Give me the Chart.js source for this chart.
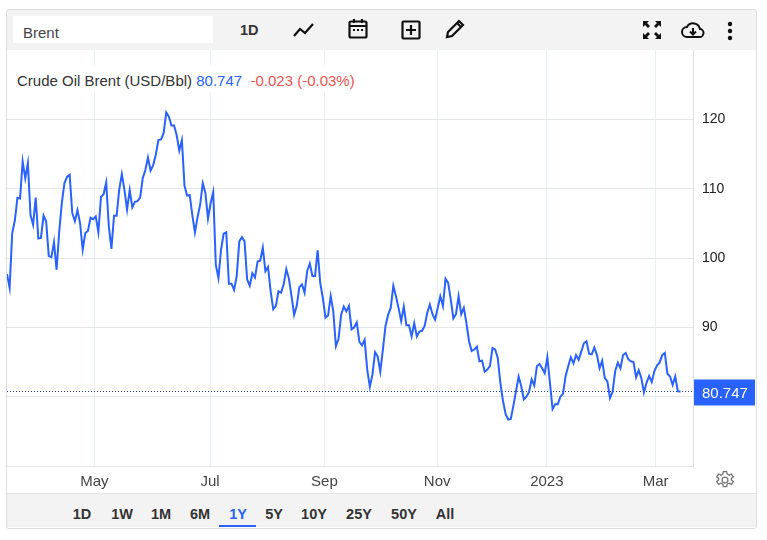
<!DOCTYPE html>
<html>
<head>
<meta charset="utf-8">
<title>Crude Oil Brent</title>
<script src="https://cdn.jsdelivr.net/npm/chart.js@4"></script>
<style>
    html, body { margin: 0; padding: 0; background: #fff; overflow: hidden; }
    body { width: 767px; height: 540px; position: relative; font-family: "Liberation Sans", Arial, sans-serif; color: #333; }
    canvas { position: absolute; left: 0; top: 0; }
    .frame { position: absolute; left: 6px; top: 9px; width: 749px; height: 518px; border: 1px solid #dcdcdc; border-radius: 3px; pointer-events: none; }
    .topbar { position: absolute; left: 7px; top: 10px; width: 749px; height: 40px; background: #f3f3f3; }
    .search { position: absolute; left: 13px; top: 16px; width: 190px; height: 27px; padding-left: 10px; background: #fff; font-size: 15px; line-height: 34px; color: #444; }
    .interval { position: absolute; left: 240px; top: 21px; font-size: 14.5px; line-height: 18px; font-weight: 700; color: #333; }
    .icon { position: absolute; }
    .legend { position: absolute; left: 8px; top: 65px; width: 350px; height: 27px; padding-left: 9px; background: #fff; font-size: 15px; line-height: 31px; white-space: pre; color: #333; }
    .legend .last { color: #2962ff; }
    .legend .change { color: #ef5350; }
    .bottombar { position: absolute; left: 7px; top: 493px; width: 749px; height: 34px; background: #f3f3f3; border-top: 1px solid #e4e4e4; box-sizing: border-box; }
    .range { position: absolute; top: 504px; font-size: 14.5px; line-height: 20px; font-weight: 700; color: #333; transform: translateX(-50%); }
    .range.active { color: #2962ff; }
    .underline { position: absolute; left: 219px; top: 525px; width: 37px; height: 2px; background: #2962ff; }
</style>
</head>
<body>
<canvas id="brentChart" width="767" height="540"></canvas>
<div class="topbar"></div>
<div class="bottombar"></div>
<div class="search">Brent</div>
<div class="interval">1D</div>
<svg class="icon" style="left:292px;top:18px" width="24" height="24" viewBox="0 0 24 24" fill="none" stroke="#111" stroke-width="2.2"><path d="M2 18l6-7 5 4 8-9"/></svg>
<svg class="icon" style="left:346px;top:17px" width="24" height="24" viewBox="0 0 24 24" fill="none" stroke="#111" stroke-width="2.2"><rect x="3.5" y="4.5" width="17" height="16" rx="1.5"/><path d="M3.5 9h17M8 2v4M16 2v4" /><path d="M7 13h2M11 13h2M15 13h2" /></svg>
<svg class="icon" style="left:399px;top:18px" width="24" height="24" viewBox="0 0 24 24" fill="none" stroke="#111" stroke-width="2.2"><rect x="3.5" y="3.5" width="17" height="17" rx="1"/><path d="M12 7v10M7 12h10"/></svg>
<svg class="icon" style="left:443px;top:17px" width="24" height="24" viewBox="0 0 24 24" fill="none" stroke="#111" stroke-width="2.2"><path d="M4 20l1-5L16 4l4 4L9 19z"/><path d="M14 6l4 4"/></svg>
<svg class="icon" style="left:640px;top:18px" width="24" height="24" viewBox="0 0 24 24" fill="#111"><path d="M3 3h6l-2 2 3 3-2 2-3-3-2 2zM21 3v6l-2-2-3 3-2-2 3-3-2-2zM3 21v-6l2 2 3-3 2 2-3 3 2 2zM21 21h-6l2-2-3-3 2-2 3 3 2-2z"/></svg>
<svg class="icon" style="left:681px;top:18px" width="24" height="24" viewBox="0 0 24 24" fill="none" stroke="#111" stroke-width="2"><path d="M6 19h12a4 4 0 0 0 1-8 7 7 0 0 0-13-2 5 5 0 0 0 0 10z"/><path d="M12 10v6M9 13.5l3 3 3-3"/></svg>
<svg class="icon" style="left:718px;top:19px" width="24" height="24" viewBox="0 0 24 24" fill="#111"><circle cx="12" cy="5" r="2.2"/><circle cx="12" cy="12" r="2.2"/><circle cx="12" cy="19" r="2.2"/></svg>
<svg class="icon" style="left:715px;top:470px" width="20" height="20" viewBox="0 0 24 24" fill="none" stroke="#777" stroke-width="1.6"><circle cx="12" cy="12" r="3.5"/><path d="M10 2h4l.6 3 2.4 1.2 2.7-1.4 2.2 3.4-2.3 2v1.6l2.3 2-2.2 3.4-2.7-1.4-2.4 1.2-.6 3h-4l-.6-3-2.4-1.2-2.7 1.4-2.2-3.4 2.3-2v-1.6l-2.3-2 2.2-3.4 2.7 1.4 2.4-1.2z"/></svg>
<div class="legend">Crude Oil Brent (USD/Bbl) <span class="last" id="legendLast"></span>  <span class="change" id="legendChange"></span></div>
<div id="rangeButtons"></div>
<div class="underline"></div>
<div class="frame"></div>
<script>
// values, one per trading day
const brentValues = [
    97.7, 95.7, 103.6, 105.4, 108.7, 108.6, 113.9, 111.5, 113.7, 106.2,
    104.8, 108.7, 102.8, 102.9, 106.1, 105.3, 100.3, 100.1, 102.3, 98.3,
    103.8, 107.9, 110.8, 111.7, 112.0, 106.5, 105.3, 106.9, 105.0, 101.2,
    103.6, 103.9, 105.8, 105.6, 106.0, 103.7, 108.8, 109.2, 110.9, 104.6,
    101.3, 106.1, 106.1, 109.9, 112.1, 109.8, 107.0, 109.8, 107.3, 108.1,
    108.2, 108.7, 111.5, 112.7, 114.5, 112.6, 113.4, 114.9, 117.0, 117.1,
    118.0, 121.0, 120.4, 119.1, 119.1, 117.7, 115.5, 117.0, 110.4, 109.0,
    109.1, 106.2, 103.7, 105.9, 107.7, 110.8, 109.4, 105.7, 107.9, 109.5,
    99.0, 97.1, 101.2, 103.5, 103.7, 96.3, 96.3, 95.4, 97.4, 102.4,
    103.0, 102.4, 96.9, 96.0, 97.8, 97.2, 99.5, 99.6, 101.5, 98.1,
    98.7, 95.2, 92.6, 93.1, 95.2, 95.0, 96.2, 98.4, 97.0, 94.5,
    91.8, 93.1, 95.8, 96.2, 95.0, 98.1, 99.2, 97.4, 97.4, 101.1,
    96.4, 94.2, 91.4, 91.7, 94.5, 92.3, 87.3, 88.3, 91.8, 93.0,
    92.3, 93.1, 89.7, 90.0, 90.7, 87.9, 87.4, 88.2, 83.9, 81.4,
    83.2, 86.4, 85.8, 83.6, 86.8, 90.2, 91.8, 92.8, 96.0, 94.5,
    92.8, 90.9, 93.0, 90.3, 90.3, 88.7, 90.6, 88.7, 89.4, 89.5,
    90.2, 92.1, 93.3, 91.9, 91.1, 92.8, 94.5, 93.1, 97.0, 96.4,
    94.0, 91.3, 91.9, 94.5, 91.9, 92.8, 90.6, 88.0,
    86.6, 86.8, 87.2, 85.1, 85.2, 83.6, 83.9, 84.4, 87.0, 86.8,
    85.6, 82.0, 79.4, 77.5, 76.7, 76.8, 78.7, 80.8, 82.9, 81.5,
    79.6, 80.0, 80.7, 82.5, 81.6, 84.4, 84.7, 84.1, 83.4, 85.7,
    82.0, 78.2, 78.9, 78.9, 80.0, 80.4, 83.0, 84.4, 85.7, 84.8,
    86.0, 85.3, 86.5, 87.7, 88.0, 86.2, 86.1, 87.1, 86.0, 84.1,
    85.2, 82.7, 82.2, 79.8, 80.7, 83.7, 84.9, 84.1, 86.0, 86.3,
    85.4, 85.1, 85.0, 82.8, 83.8, 82.7, 80.6, 82.0, 83.0, 82.1,
    83.7, 84.5, 84.9, 86.0, 86.3, 83.3, 82.9, 81.7, 82.9, 80.77, 80.747
];
const monthTickIndex = [33.5, 77.8, 121.6, 164.8, 206.8, 248.5];
const monthTickLabels = ['May', 'Jul', 'Sep', 'Nov', '2023', 'Mar'];
const priceTickLabels = [90, 100, 110, 120];
const lastPrice = 80.747;
const lastChange = '-0.023 (-0.03%)';
const rangeLabels = ['1D', '1W', '1M', '6M', '1Y', '5Y', '10Y', '25Y', '50Y', 'All'];
const rangeCenters = [82, 122, 161, 200, 238, 274, 314, 359, 404, 445];
const activeRange = '1Y';

const xMax = 262.8;
const blue = '#2962ff';

document.getElementById('legendLast').textContent = lastPrice.toFixed(3);
document.getElementById('legendChange').textContent = lastChange;

document.getElementById('rangeButtons').innerHTML = rangeLabels.map((label, idx) => `
    <div class="range${label === activeRange ? ' active' : ''}" style="left:${rangeCenters[idx]}px">${label}</div>
`).join('');

// price box sitting on the right axis
const lastPriceBox = {
    id: 'lastPriceBox',
    afterDraw(chart) {
        const { ctx, chartArea, scales } = chart;
        const y = scales.y.getPixelForValue(lastPrice);
        ctx.save();
        ctx.fillStyle = blue;
        ctx.fillRect(chartArea.right + 1, y - 12, 61, 26);
        ctx.fillStyle = '#fff';
        ctx.font = '15px "Liberation Sans", Arial, sans-serif';
        ctx.textAlign = 'left';
        ctx.textBaseline = 'middle';
        ctx.fillText(lastPrice.toFixed(3), chartArea.right + 9, y + 2);
        ctx.restore();
    }
};

new Chart(document.getElementById('brentChart').getContext('2d'), {
    type: 'line',
    data: {
        datasets: [
            {
                data: brentValues.map((v, i) => ({ x: i, y: v })),
                borderColor: blue,
                borderWidth: 2,
                pointRadius: 0,
                tension: 0
            },
            {
                data: [{ x: 0, y: lastPrice }, { x: xMax, y: lastPrice }],
                borderColor: '#27389c',
                borderWidth: 1,
                borderDash: [1, 2],
                pointRadius: 0
            }
        ]
    },
    options: {
        responsive: false,
        animation: false,
        layout: { padding: { left: 7, top: 50, right: 12, bottom: 47 } },
        plugins: { legend: { display: false }, tooltip: { enabled: false } },
        scales: {
            x: {
                type: 'linear',
                min: 0,
                max: xMax,
                afterBuildTicks(axis) {
                    axis.ticks = monthTickIndex.map(v => ({ value: v }));
                },
                afterFit(axis) { axis.height = 27; },
                grid: { color: '#e9f0f6', drawTicks: false },
                border: { color: '#e4e4e4' },
                ticks: {
                    autoSkip: false,
                    maxRotation: 0,
                    padding: 7,
                    color: '#444',
                    font: { family: '"Liberation Sans", Arial, sans-serif', size: 15 },
                    callback: (value, idx) => monthTickLabels[idx]
                }
            },
            y: {
                position: 'right',
                min: 70,
                max: 130,
                afterFit(axis) { axis.width = 62; },
                grid: {
                    color: ctx => ctx.tick.value === 130 ? 'transparent' : '#e6e6e6',
                    drawTicks: false
                },
                border: { color: '#e0e0e0' },
                ticks: {
                    stepSize: 10,
                    padding: 9,
                    color: '#222',
                    font: { family: '"Liberation Sans", Arial, sans-serif', size: 14 },
                    callback: value => priceTickLabels.includes(value) ? String(value) : ''
                }
            }
        }
    },
    plugins: [lastPriceBox]
});
</script>
</body>
</html>
